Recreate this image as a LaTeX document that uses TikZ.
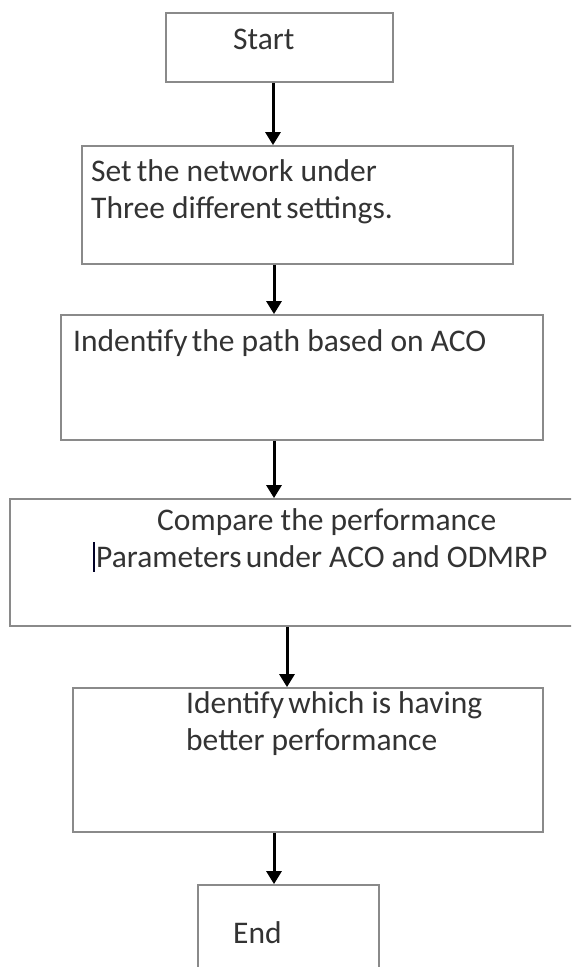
\documentclass[tikz,border=0pt]{standalone}
\usepackage{fontspec}
\setmainfont{Carlito}
\usetikzlibrary{arrows.meta}
\definecolor{boxgray}{HTML}{8A8A8A}
\definecolor{txtgray}{HTML}{333333}
\begin{document}
\begin{tikzpicture}[x=1pt,y=-1pt,
  stepbox/.style={draw=boxgray,line width=1.8pt,inner sep=0pt,rectangle},
  lbl/.style={anchor=base west,inner sep=0pt,text=txtgray,font=\fontsize{31.5}{37}\selectfont},
  arr/.style={draw=black,line width=3pt,-{Triangle[width=15pt,length=13pt]}}]
\useasboundingbox (0,0) rectangle (571,967);
\clip (0,0) rectangle (571,967);
\fill[white] (0,0) rectangle (571,967);
% boxes
\node[stepbox,minimum width=227pt,minimum height=69pt] (b1) at (279.5,47.5) {};
\node[stepbox,minimum width=431pt,minimum height=118pt] (b2) at (297.5,205) {};
\node[stepbox,minimum width=482pt,minimum height=125pt] (b3) at (302,377.5) {};
\node[stepbox,minimum width=590pt,minimum height=127pt] (b4) at (305,562.5) {};
\node[stepbox,minimum width=470pt,minimum height=144pt] (b5) at (308,760) {};
\node[stepbox,minimum width=181pt,minimum height=115pt] (b6) at (288.5,942.5) {};
% texts
\node[lbl] (t1) at (233,49) {Start};
\node[lbl] (t2a) at (91,181) {Set\hspace{-2pt} the network under};
\node[lbl] (t2b) at (91,218) {Three different\hspace{-3pt} settings.};
\node[lbl] (t3) at (73,351) {Indentify\hspace{-3pt} the path based on ACO};
\node[lbl] (t4a) at (157,530) {Compare the performance};
\node[lbl] (t4b) at (96,567) {Parameters\hspace{-3pt} under ACO and ODMRP};
\node[lbl] (t5a) at (186,713) {Identify\hspace{-3pt} which is having};
\node[lbl] (t5b) at (186,750) {better performance};
\node[lbl] (t6) at (233,943) {End};
% text cursor mark
\draw[line width=2.4pt,black!85!blue] (94,542) -- (94,572);
% arrows
\draw[arr] (b1.south -| 273,0) -- (b2.north -| 273,0);
\draw[arr] (b2.south -| 274,0) -- (b3.north -| 274,0);
\draw[arr] (b3.south -| 274,0) -- (b4.north -| 274,0);
\draw[arr] (b4.south -| 287,0) -- (b5.north -| 287,0);
\draw[arr] (b5.south -| 274,0) -- (b6.north -| 274,0);
\end{tikzpicture}
\end{document}
